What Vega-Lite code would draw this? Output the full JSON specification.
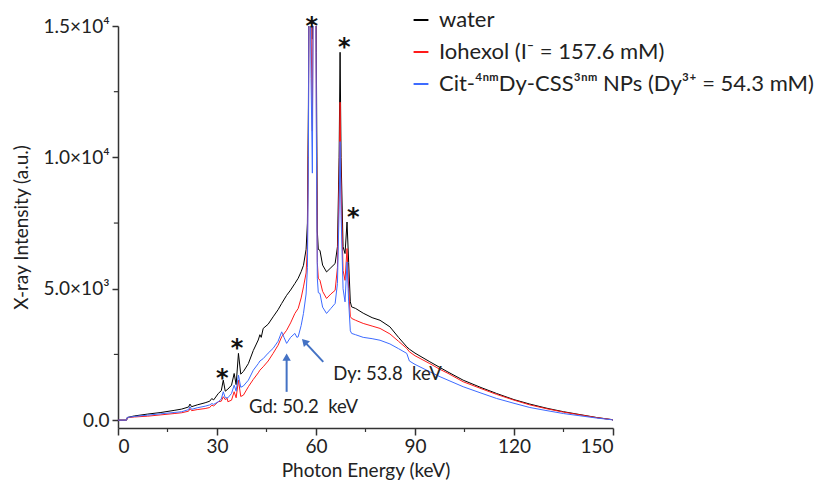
{
"$schema": "https://vega.github.io/schema/vega-lite/v6.json",
"width": 495, "height": 402, "autosize": "none",
"padding": {"left": 118, "top": 26, "right": 219, "bottom": 59},
"background": "white",
"config": {"view": {"stroke": null}, "font": "Lato"},
"datasets": {
"spec": [
{"s":"a","e":0,"v":0},{"s":"a","e":2.6,"v":0},{"s":"a","e":2.8,"v":100},{"s":"a","e":5,"v":160},{"s":"a","e":9,"v":230},{"s":"a","e":13,"v":290},{"s":"a","e":17,"v":370},{"s":"a","e":19.3,"v":420},{"s":"a","e":21.4,"v":500},{"s":"a","e":21.8,"v":610},{"s":"a","e":22.3,"v":510},{"s":"a","e":24,"v":580},{"s":"a","e":26.4,"v":660},{"s":"a","e":27.8,"v":720},{"s":"a","e":28.4,"v":820},{"s":"a","e":29,"v":770},{"s":"a","e":30.4,"v":1015},{"s":"a","e":31.3,"v":1120},{"s":"a","e":31.9,"v":1520},{"s":"a","e":32.5,"v":1100},{"s":"a","e":33.3,"v":1180},{"s":"a","e":34.4,"v":1330},{"s":"a","e":35.2,"v":1775},{"s":"a","e":35.8,"v":1350},{"s":"a","e":36.5,"v":2540},{"s":"a","e":37.2,"v":1750},{"s":"a","e":38,"v":1850},{"s":"a","e":39.5,"v":2150},{"s":"a","e":41,"v":2650},{"s":"a","e":42.5,"v":3050},{"s":"a","e":43,"v":3250},{"s":"a","e":43.4,"v":3150},{"s":"a","e":44,"v":3490},{"s":"a","e":45.5,"v":3650},{"s":"a","e":47,"v":3930},{"s":"a","e":48.5,"v":4200},{"s":"a","e":49.6,"v":4440},{"s":"a","e":51.1,"v":4750},{"s":"a","e":52.3,"v":4950},{"s":"a","e":53.6,"v":5200},{"s":"a","e":54.6,"v":5400},{"s":"a","e":55.5,"v":5650},{"s":"a","e":56.2,"v":5890},{"s":"a","e":57,"v":6500},{"s":"a","e":57.4,"v":7500},{"s":"a","e":57.7,"v":12000},{"s":"a","e":58,"v":20000},{"s":"a","e":58.5,"v":17000},{"s":"a","e":58.9,"v":14500},{"s":"a","e":59.3,"v":20000},{"s":"a","e":59.7,"v":25000},{"s":"a","e":60.1,"v":14000},{"s":"a","e":60.4,"v":7200},{"s":"a","e":60.7,"v":6500},{"s":"a","e":61.2,"v":6460},{"s":"a","e":62,"v":5900},{"s":"a","e":63.2,"v":5640},{"s":"a","e":64.5,"v":5800},{"s":"a","e":65.8,"v":5960},{"s":"a","e":66.5,"v":6600},{"s":"a","e":67,"v":10000},{"s":"a","e":67.3,"v":14000},{"s":"a","e":67.6,"v":10000},{"s":"a","e":68.2,"v":6600},{"s":"a","e":68.8,"v":6340},{"s":"a","e":69.4,"v":7540},{"s":"a","e":69.9,"v":6000},{"s":"a","e":70.4,"v":4500},{"s":"a","e":70.8,"v":4310},{"s":"a","e":72,"v":4250},{"s":"a","e":74.3,"v":4070},{"s":"a","e":77,"v":3900},{"s":"a","e":79.4,"v":3800},{"s":"a","e":82.4,"v":3550},{"s":"a","e":85,"v":3150},{"s":"a","e":87.5,"v":2790},{"s":"a","e":88.3,"v":2700},{"s":"a","e":90,"v":2550},{"s":"a","e":94.5,"v":2220},{"s":"a","e":97.6,"v":2000},{"s":"a","e":100,"v":1830},{"s":"a","e":104.6,"v":1520},{"s":"a","e":110,"v":1240},{"s":"a","e":114.7,"v":1015},{"s":"a","e":120,"v":780},{"s":"a","e":124.8,"v":610},{"s":"a","e":130,"v":450},{"s":"a","e":135,"v":320},{"s":"a","e":140,"v":210},{"s":"a","e":145,"v":100},{"s":"a","e":149.6,"v":20},{"s":"a","e":150,"v":0},
{"s":"b","e":0,"v":0},{"s":"b","e":2.6,"v":0},{"s":"b","e":2.8,"v":90},{"s":"b","e":5,"v":120},{"s":"b","e":9,"v":150},{"s":"b","e":13,"v":200},{"s":"b","e":17,"v":250},{"s":"b","e":19.3,"v":280},{"s":"b","e":21.4,"v":340},{"s":"b","e":21.8,"v":440},{"s":"b","e":22.3,"v":360},{"s":"b","e":24,"v":400},{"s":"b","e":26.4,"v":440},{"s":"b","e":27.8,"v":480},{"s":"b","e":28.4,"v":570},{"s":"b","e":29,"v":540},{"s":"b","e":30.4,"v":700},{"s":"b","e":31.3,"v":720},{"s":"b","e":31.9,"v":890},{"s":"b","e":32.5,"v":780},{"s":"b","e":33.1,"v":830},{"s":"b","e":33.3,"v":700},{"s":"b","e":34.4,"v":760},{"s":"b","e":35.2,"v":1080},{"s":"b","e":35.8,"v":850},{"s":"b","e":36.5,"v":1520},{"s":"b","e":37.2,"v":900},{"s":"b","e":38,"v":950},{"s":"b","e":39.5,"v":1270},{"s":"b","e":41,"v":1550},{"s":"b","e":42.5,"v":1800},{"s":"b","e":43,"v":1900},{"s":"b","e":44,"v":2030},{"s":"b","e":45.5,"v":2250},{"s":"b","e":47,"v":2540},{"s":"b","e":48.5,"v":2850},{"s":"b","e":49.6,"v":3170},{"s":"b","e":51.1,"v":3420},{"s":"b","e":52.3,"v":3700},{"s":"b","e":53.6,"v":4060},{"s":"b","e":54.6,"v":4250},{"s":"b","e":55.5,"v":4650},{"s":"b","e":56.2,"v":5070},{"s":"b","e":57,"v":5600},{"s":"b","e":57.4,"v":6600},{"s":"b","e":57.7,"v":11000},{"s":"b","e":58,"v":20000},{"s":"b","e":58.5,"v":15000},{"s":"b","e":58.9,"v":11000},{"s":"b","e":59.3,"v":20000},{"s":"b","e":59.7,"v":25000},{"s":"b","e":60.1,"v":12000},{"s":"b","e":60.4,"v":6000},{"s":"b","e":60.7,"v":5400},{"s":"b","e":61.2,"v":5320},{"s":"b","e":62,"v":4900},{"s":"b","e":63.2,"v":4630},{"s":"b","e":64.5,"v":4800},{"s":"b","e":65.8,"v":4940},{"s":"b","e":66.5,"v":5800},{"s":"b","e":67,"v":9000},{"s":"b","e":67.3,"v":12100},{"s":"b","e":67.6,"v":8800},{"s":"b","e":68.2,"v":5700},{"s":"b","e":68.8,"v":5320},{"s":"b","e":69.4,"v":6530},{"s":"b","e":69.9,"v":5000},{"s":"b","e":70.4,"v":3950},{"s":"b","e":70.8,"v":3870},{"s":"b","e":72,"v":3800},{"s":"b","e":74.3,"v":3680},{"s":"b","e":77,"v":3580},{"s":"b","e":79.4,"v":3490},{"s":"b","e":82.4,"v":3280},{"s":"b","e":85,"v":3000},{"s":"b","e":87.5,"v":2730},{"s":"b","e":88.3,"v":2600},{"s":"b","e":90,"v":2450},{"s":"b","e":94.5,"v":2150},{"s":"b","e":97.6,"v":1930},{"s":"b","e":100,"v":1780},{"s":"b","e":104.6,"v":1460},{"s":"b","e":110,"v":1200},{"s":"b","e":114.7,"v":980},{"s":"b","e":120,"v":760},{"s":"b","e":124.8,"v":580},{"s":"b","e":130,"v":430},{"s":"b","e":135,"v":305},{"s":"b","e":140,"v":200},{"s":"b","e":145,"v":95},{"s":"b","e":149.6,"v":20},{"s":"b","e":150,"v":0},
{"s":"c","e":0,"v":0},{"s":"c","e":2.6,"v":0},{"s":"c","e":2.8,"v":100},{"s":"c","e":5,"v":140},{"s":"c","e":9,"v":190},{"s":"c","e":13,"v":240},{"s":"c","e":17,"v":290},{"s":"c","e":19.3,"v":320},{"s":"c","e":21.4,"v":400},{"s":"c","e":21.8,"v":510},{"s":"c","e":22.3,"v":410},{"s":"c","e":24,"v":470},{"s":"c","e":26.4,"v":530},{"s":"c","e":27.8,"v":580},{"s":"c","e":28.4,"v":630},{"s":"c","e":29,"v":600},{"s":"c","e":30.4,"v":700},{"s":"c","e":31.3,"v":800},{"s":"c","e":31.9,"v":1080},{"s":"c","e":32.5,"v":850},{"s":"c","e":33.3,"v":850},{"s":"c","e":34.4,"v":1015},{"s":"c","e":35.2,"v":1330},{"s":"c","e":35.8,"v":1100},{"s":"c","e":36.5,"v":1710},{"s":"c","e":37.2,"v":1250},{"s":"c","e":38,"v":1300},{"s":"c","e":39.5,"v":1520},{"s":"c","e":41,"v":1900},{"s":"c","e":42.5,"v":2150},{"s":"c","e":43,"v":2250},{"s":"c","e":44,"v":2340},{"s":"c","e":45.5,"v":2550},{"s":"c","e":47,"v":2730},{"s":"c","e":48.5,"v":3000},{"s":"c","e":49.6,"v":3360},{"s":"c","e":50.3,"v":3150},{"s":"c","e":51.1,"v":2920},{"s":"c","e":52.3,"v":3150},{"s":"c","e":53.6,"v":3300},{"s":"c","e":54.2,"v":3150},{"s":"c","e":54.6,"v":3170},{"s":"c","e":55.5,"v":3600},{"s":"c","e":56.2,"v":4060},{"s":"c","e":57,"v":4800},{"s":"c","e":57.4,"v":5800},{"s":"c","e":57.7,"v":10000},{"s":"c","e":58,"v":20000},{"s":"c","e":58.5,"v":13000},{"s":"c","e":58.9,"v":9400},{"s":"c","e":59.3,"v":20000},{"s":"c","e":59.7,"v":25000},{"s":"c","e":60.1,"v":11000},{"s":"c","e":60.4,"v":5400},{"s":"c","e":60.7,"v":4850},{"s":"c","e":61.2,"v":4820},{"s":"c","e":62,"v":4300},{"s":"c","e":63.2,"v":4060},{"s":"c","e":64.5,"v":4250},{"s":"c","e":65.8,"v":4440},{"s":"c","e":66.5,"v":5200},{"s":"c","e":67,"v":8000},{"s":"c","e":67.3,"v":10600},{"s":"c","e":67.6,"v":7800},{"s":"c","e":68.2,"v":5000},{"s":"c","e":68.8,"v":4500},{"s":"c","e":69.4,"v":6020},{"s":"c","e":69.9,"v":4500},{"s":"c","e":70.4,"v":3400},{"s":"c","e":70.8,"v":3300},{"s":"c","e":72,"v":3250},{"s":"c","e":74.3,"v":3150},{"s":"c","e":77,"v":3100},{"s":"c","e":79.4,"v":3040},{"s":"c","e":82.4,"v":2900},{"s":"c","e":85,"v":2720},{"s":"c","e":87.5,"v":2540},{"s":"c","e":88.3,"v":2250},{"s":"c","e":90,"v":2120},{"s":"c","e":94.5,"v":1840},{"s":"c","e":97.6,"v":1650},{"s":"c","e":100,"v":1520},{"s":"c","e":104.6,"v":1270},{"s":"c","e":110,"v":1030},{"s":"c","e":114.7,"v":825},{"s":"c","e":120,"v":640},{"s":"c","e":124.8,"v":480},{"s":"c","e":130,"v":360},{"s":"c","e":135,"v":250},{"s":"c","e":140,"v":165},{"s":"c","e":145,"v":80},{"s":"c","e":149.6,"v":15},{"s":"c","e":150,"v":0}
],
"stars": [{"e":31.6,"v":1780},{"e":36.1,"v":2920},{"e":58.7,"v":15200},{"e":68.6,"v":14380},{"e":71.3,"v":7920}],
"notes": [{"e":65.2,"v":1750,"t":"Dy: 53.8\u00a0 keV"},{"e":39.7,"v":494,"t":"Gd: 50.2\u00a0 keV"}],
"arrows": [{"e":51.1,"v":1076,"e2":51.1,"v2":2395},{"e":62.2,"v":2217,"e2":56.5,"v2":2990}],
"heads": [{"e":51.1,"v":2395,"a":0},{"e":56.5,"v":2990,"a":317}],
"xminor": [{"e":15,"v":-300,"v2":-452},{"e":45,"v":-300,"v2":-452},{"e":75,"v":-300,"v2":-452},{"e":105,"v":-300,"v2":-452},{"e":135,"v":-300,"v2":-452}],
"yminor": [{"e":0,"e2":-1.25,"v":2500},{"e":0,"e2":-1.25,"v":7500},{"e":0,"e2":-1.25,"v":12500}]
},
"layer": [
{"data": {"name": "spec"},
 "mark": {"type": "line", "strokeWidth": 1, "clip": true},
 "encoding": {
  "x": {"field": "e", "type": "quantitative", "scale": {"domain": [0, 150], "nice": false},
        "axis": {"orient": "bottom", "values": [0, 30, 60, 90, 120, 150], "grid": false, "domainColor": "#333", "domainWidth": 1.5, "tickColor": "#333", "tickWidth": 1.5, "tickSize": 7, "labelFontSize": 19, "labelColor": "#222", "labelPadding": 2, "title": "Photon Energy (keV)", "titleFontSize": 19, "titleFontWeight": "normal", "titleColor": "#222", "titlePadding": 5}},
  "y": {"field": "v", "type": "quantitative", "scale": {"domain": [-300, 15000], "nice": false, "zero": false},
        "axis": {"orient": "left", "values": [0, 5000, 10000, 15000], "grid": false, "domainColor": "#333", "domainWidth": 1.5, "tickColor": "#333", "tickWidth": 1.5, "tickSize": 6, "labelFontSize": 19, "labelColor": "#222", "labelPadding": 3,
                 "labelExpr": "datum.value == 0 ? '0.0' : datum.value == 5000 ? '5.0×10³' : datum.value == 10000 ? '1.0×10⁴' : '1.5×10⁴'",
                 "title": "X-ray Intensity (a.u.)", "titleFontSize": 19, "titleFontWeight": "normal", "titleColor": "#222", "titlePadding": 12}},
  "color": {"field": "s", "type": "nominal",
            "scale": {"domain": ["a", "b", "c"], "range": ["#000000", "#ff1a1a", "#3d6bff"]},
            "legend": {"orient": "none", "legendX": 292, "legendY": -17, "title": null, "symbolType": "stroke", "symbolStrokeWidth": 2, "symbolSize": 220, "labelFontSize": 22, "labelColor": "#222", "rowPadding": 10, "labelOffset": 7,
                       "labelExpr": "datum.value == 'a' ? 'water' : datum.value == 'b' ? 'Iohexol (I⁻ = 157.6 mM)' : 'Cit-⁴ⁿᵐDy-CSS³ⁿᵐ NPs (Dy³⁺ = 54.3 mM)'", "labelLimit": 600}}
 }},
{"data": {"name": "xminor"},
 "mark": {"type": "rule", "color": "#333", "strokeWidth": 1.2, "clip": false},
 "encoding": {"x": {"field": "e", "type": "quantitative"}, "y": {"field": "v", "type": "quantitative"}, "y2": {"field": "v2"}}},
{"data": {"name": "yminor"},
 "mark": {"type": "rule", "color": "#333", "strokeWidth": 1.2, "clip": false},
 "encoding": {"x": {"field": "e", "type": "quantitative"}, "x2": {"field": "e2"}, "y": {"field": "v", "type": "quantitative"}}},
{"data": {"name": "stars"},
 "mark": {"type": "text", "text": "*", "fontSize": 24, "fontWeight": "bold", "font": "DejaVu Sans", "baseline": "alphabetic", "dy": 13, "color": "#111"},
 "encoding": {"x": {"field": "e", "type": "quantitative"}, "y": {"field": "v", "type": "quantitative"}}},
{"data": {"name": "notes"},
 "mark": {"type": "text", "fontSize": 18.5, "align": "left", "baseline": "middle", "color": "#222"},
 "encoding": {"x": {"field": "e", "type": "quantitative"}, "y": {"field": "v", "type": "quantitative"}, "text": {"field": "t"}}},
{"data": {"name": "arrows"},
 "mark": {"type": "rule", "color": "#4472c4", "strokeWidth": 2},
 "encoding": {"x": {"field": "e", "type": "quantitative"}, "y": {"field": "v", "type": "quantitative"}, "x2": {"field": "e2"}, "y2": {"field": "v2"}}},
{"data": {"name": "heads"},
 "mark": {"type": "point", "shape": "triangle-up", "filled": true, "color": "#4472c4", "size": 70, "opacity": 1},
 "encoding": {"x": {"field": "e", "type": "quantitative"}, "y": {"field": "v", "type": "quantitative"}, "angle": {"field": "a", "type": "quantitative", "scale": null}}}
]
}
